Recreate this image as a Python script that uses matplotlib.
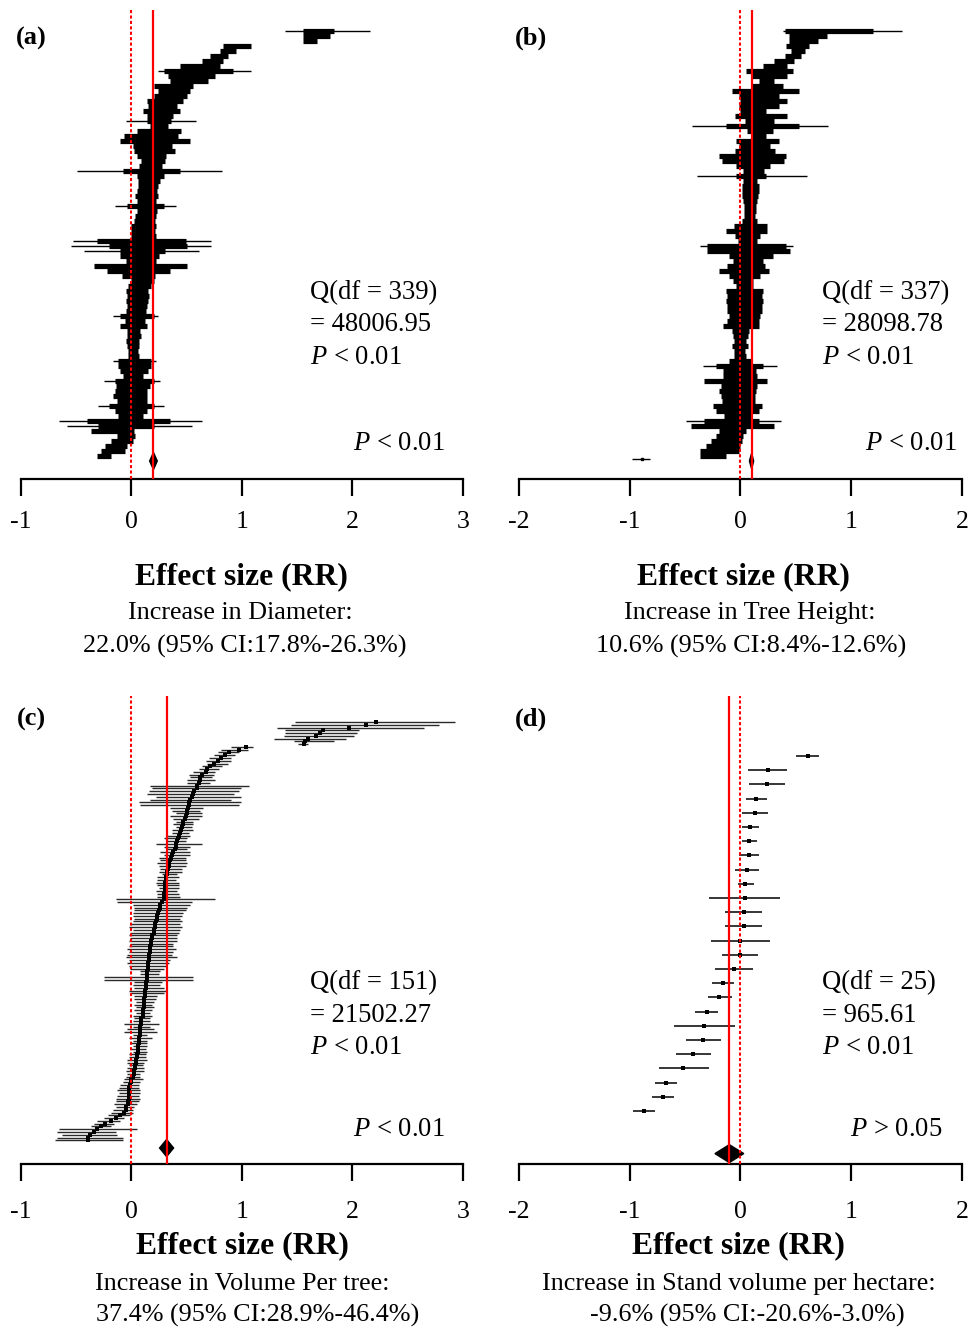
import numpy as np
import matplotlib
matplotlib.use("Agg")
import matplotlib.pyplot as plt

plt.rcParams['font.family'] = ['Liberation Serif', 'DejaVu Serif']
plt.rcParams['mathtext.fontset'] = 'custom'
plt.rcParams['mathtext.it'] = 'Liberation Serif:italic'
plt.rcParams['mathtext.rm'] = 'Liberation Serif'

# ---------------- data ----------------
# Panel (a) Diameter: silhouette rows (lower / upper CI, ln RR), top -> bottom
a_lo = [1.55, 1.55, 1.55, 0.83, 0.80, 0.71, 0.64, 0.44, 0.29, 0.33,
        0.35, 0.20, 0.24, 0.20, 0.14, 0.15, 0.10, 0.14, 0.14, 0.17,
        0.05, -0.07, -0.10, 0.01, 0.02, 0.05, 0.09, 0.07, -0.08, 0.05,
        0.06, 0.06, 0.05, 0.03, 0.05, -0.04, 0.05, 0.03, 0.02, 0.00,
        0.00, 0.00, -0.31, -0.20, -0.10, -0.10, -0.05, -0.34, -0.22, -0.09,
        0.00, -0.03, -0.05, -0.04, -0.05, -0.04, -0.05, -0.10, -0.06, -0.10,
        -0.04, -0.04, -0.05, -0.04, -0.03, -0.03, -0.12, -0.12, -0.10, -0.08,
        -0.15, -0.14, -0.15, -0.17, -0.13, -0.20, -0.15, -0.12, -0.40, -0.30,
        -0.37, -0.13, -0.19, -0.24, -0.28, -0.31]
a_hi = [1.83, 1.80, 1.68, 1.08, 0.95, 0.87, 0.83, 0.80, 0.92, 0.76,
        0.69, 0.56, 0.53, 0.50, 0.47, 0.41, 0.44, 0.38, 0.36, 0.33,
        0.45, 0.42, 0.53, 0.37, 0.39, 0.31, 0.30, 0.28, 0.44, 0.29,
        0.26, 0.24, 0.23, 0.24, 0.22, 0.29, 0.23, 0.22, 0.21, 0.22,
        0.21, 0.22, 0.49, 0.50, 0.30, 0.25, 0.22, 0.50, 0.35, 0.21,
        0.20, 0.18, 0.15, 0.16, 0.15, 0.14, 0.13, 0.20, 0.12, 0.14,
        0.08, 0.09, 0.07, 0.07, 0.06, 0.07, 0.18, 0.18, 0.15, 0.10,
        0.20, 0.17, 0.14, 0.14, 0.14, 0.20, 0.14, 0.10, 0.35, 0.20,
        0.02, 0.03, 0.01, -0.04, -0.06, -0.19]
# wide single-study intervals in panel (a)
a_out_row = [0, 8, 18, 28, 35, 42, 43, 44, 57, 66, 70, 75, 78, 79]
a_out_lo = [1.39, 0.24, -0.05, -0.49, -0.15, -0.53, -0.55, -0.43, -0.17, -0.17, -0.25, -0.30, -0.66, -0.58]
a_out_hi = [2.16, 1.08, 0.58, 0.82, 0.40, 0.72, 0.72, 0.61, 0.24, 0.22, 0.26, 0.29, 0.64, 0.55]

# Panel (b) Tree height
b_lo = [0.40, 0.44, 0.44, 0.41, 0.46, 0.40, 0.30, 0.20, 0.05, 0.10,
        0.17, 0.10, -0.08, -0.01, 0.00, -0.01, 0.00, -0.05, 0.04, -0.13,
        0.06, 0.10, -0.04, -0.01, -0.05, -0.19, -0.17, -0.04, 0.02, -0.04,
        0.02, 0.01, 0.01, 0.01, 0.02, 0.03, 0.03, 0.03, 0.01, -0.06,
        -0.13, -0.05, -0.02, -0.30, -0.30, -0.10, -0.07, -0.12, -0.19, -0.10,
        -0.07, -0.04, -0.13, -0.12, -0.13, -0.12, -0.12, -0.10, -0.12, -0.16,
        -0.08, -0.07, -0.06, -0.08, -0.06, -0.06, -0.10, -0.22, -0.16, -0.16,
        -0.33, -0.18, -0.19, -0.18, -0.17, -0.25, -0.22, -0.15, -0.33, -0.45,
        -0.19, -0.22, -0.27, -0.31, -0.37, -0.37]
b_hi = [1.20, 0.78, 0.70, 0.62, 0.58, 0.55, 0.48, 0.42, 0.47, 0.42,
        0.30, 0.38, 0.53, 0.35, 0.42, 0.35, 0.23, 0.42, 0.30, 0.53,
        0.29, 0.23, 0.35, 0.27, 0.31, 0.41, 0.39, 0.27, 0.21, 0.23,
        0.15, 0.17, 0.17, 0.16, 0.15, 0.14, 0.14, 0.13, 0.15, 0.24,
        0.24, 0.18, 0.15, 0.41, 0.45, 0.29, 0.20, 0.22, 0.26, 0.18,
        0.11, 0.11, 0.20, 0.19, 0.20, 0.19, 0.19, 0.18, 0.17, 0.17,
        0.08, 0.07, 0.05, 0.07, 0.04, 0.05, 0.10, 0.20, 0.14, 0.15,
        0.24, 0.15, 0.14, 0.13, 0.13, 0.19, 0.17, 0.10, 0.17, 0.30,
        0.05, 0.02, 0.01, 0.00, -0.01, -0.13]
b_out_row = [0, 19, 29, 43, 67, 78, 85.5]
b_out_lo = [0.38, -0.44, -0.39, -0.37, -0.34, -0.49, -0.98]
b_out_hi = [1.46, 0.79, 0.60, 0.47, 0.33, 0.37, -0.82]
b_out_est = [None, None, None, None, None, None, -0.89]

# Panel (c) Volume per tree: 152 studies
c_est = [2.21, 2.12, 1.97, 1.73, 1.71, 1.67, 1.60, 1.57, 1.56,
         1.04, 0.97, 0.88, 0.85, 0.81, 0.78, 0.75, 0.71, 0.68, 0.67, 0.64,
         0.62, 0.62, 0.61, 0.59, 0.59, 0.57, 0.56, 0.55, 0.53, 0.52,
         0.52, 0.51, 0.50, 0.50, 0.49, 0.48, 0.47, 0.47, 0.46, 0.45,
         0.44, 0.43, 0.42, 0.41, 0.40, 0.40, 0.39, 0.38, 0.37, 0.36,
         0.35, 0.34, 0.34, 0.33, 0.32, 0.32, 0.31, 0.31, 0.30, 0.30,
         0.30, 0.30, 0.29, 0.29, 0.29, 0.28, 0.26, 0.26, 0.25, 0.24,
         0.23, 0.23, 0.22, 0.21, 0.21, 0.20, 0.20, 0.19, 0.19, 0.18,
         0.18, 0.17, 0.17, 0.17, 0.16, 0.16, 0.16, 0.15, 0.15, 0.15,
         0.14, 0.14, 0.14, 0.14, 0.13, 0.13, 0.13, 0.12, 0.12, 0.12,
         0.11, 0.11, 0.11, 0.11, 0.10, 0.10, 0.10, 0.09, 0.09, 0.09,
         0.08, 0.08, 0.08, 0.08, 0.07, 0.07, 0.07, 0.06, 0.06, 0.06,
         0.05, 0.05, 0.04, 0.04, 0.03, 0.03, 0.02, 0.02, 0.01, 0.00,
         0.00, -0.01, -0.02, -0.02, -0.02, -0.02, -0.02, -0.03, -0.03, -0.05,
         -0.05, -0.07, -0.10, -0.14, -0.19, -0.24, -0.28, -0.31, -0.34, -0.38,
         -0.39, -0.39]
c_lo = [1.48, 1.44, 1.32, 1.39, 1.39, 1.38, 1.29, 1.47, 1.51,
        0.90, 0.81, 0.78, 0.75, 0.70, 0.67, 0.68, 0.64, 0.61, 0.56, 0.52,
        0.53, 0.50, 0.50, 0.17, 0.19, 0.16, 0.14, 0.22, 0.17, 0.07,
        0.08, 0.35, 0.37, 0.40, 0.35, 0.38, 0.40, 0.38, 0.40, 0.37,
        0.37, 0.32, 0.29, 0.32, 0.22, 0.29, 0.31, 0.26, 0.29, 0.25,
        0.26, 0.23, 0.25, 0.26, 0.25, 0.28, 0.23, 0.23, 0.22, 0.23,
        0.25, 0.22, 0.23, 0.23, -0.14, -0.13, 0.01, 0.02, 0.02, 0.01,
        0.01, 0.02, 0.01, -0.01, -0.02, 0.01, -0.01, -0.02, -0.01, -0.02,
        -0.01, -0.02, -0.04, -0.02, -0.04, -0.05, -0.02, -0.04, -0.02, -0.01,
        0.08, 0.08, -0.25, -0.25, 0.02, 0.01, 0.02, -0.02, -0.01, 0.02,
        0.02, 0.04, 0.02, 0.04, 0.02, 0.04, 0.01, 0.02, 0.01, -0.07,
        0.01, -0.04, -0.07, 0.01, -0.02, 0.01, -0.01, 0.01, -0.01, 0.01,
        -0.02, -0.02, -0.04, -0.04, -0.02, -0.04, -0.05, -0.04, -0.05, -0.07,
        -0.08, -0.10, -0.11, -0.13, -0.11, -0.13, -0.14, -0.14, -0.16, -0.14,
        -0.17, -0.19, -0.21, -0.25, -0.31, -0.34, -0.37, -0.66, -0.67, -0.63,
        -0.67, -0.69]
c_hi = [2.93, 2.78, 2.65, 2.06, 2.04, 2.01, 1.94, 1.83, 1.60,
        1.10, 1.05, 0.97, 0.94, 0.90, 0.90, 0.87, 0.82, 0.79, 0.76, 0.75,
        0.73, 0.76, 0.71, 1.06, 0.99, 0.97, 0.93, 0.99, 0.90, 0.99,
        0.97, 0.65, 0.62, 0.64, 0.64, 0.61, 0.56, 0.56, 0.55, 0.56,
        0.52, 0.53, 0.50, 0.49, 0.64, 0.53, 0.50, 0.53, 0.53, 0.49,
        0.49, 0.50, 0.49, 0.46, 0.46, 0.41, 0.43, 0.40, 0.43, 0.43,
        0.43, 0.41, 0.43, 0.44, 0.76, 0.55, 0.53, 0.50, 0.49, 0.47,
        0.46, 0.44, 0.46, 0.44, 0.46, 0.44, 0.43, 0.41, 0.41, 0.41,
        0.38, 0.38, 0.40, 0.38, 0.37, 0.41, 0.35, 0.34, 0.32, 0.29,
        0.26, 0.25, 0.56, 0.56, 0.28, 0.26, 0.29, 0.31, 0.29, 0.23,
        0.22, 0.20, 0.19, 0.20, 0.19, 0.17, 0.19, 0.17, 0.17, 0.25,
        0.17, 0.20, 0.23, 0.14, 0.19, 0.14, 0.14, 0.14, 0.13, 0.14,
        0.13, 0.13, 0.14, 0.11, 0.10, 0.11, 0.11, 0.08, 0.08, 0.10,
        0.08, 0.07, 0.07, 0.08, 0.08, 0.07, 0.08, 0.07, 0.05, 0.02,
        0.01, 0.01, -0.01, -0.07, -0.10, -0.16, -0.19, 0.05, -0.14, -0.13,
        -0.08, -0.08]

# Panel (d) Stand volume per hectare: 26 studies
d_est = [0.61, 0.25, 0.24, 0.14, 0.13, 0.09, 0.08, 0.08, 0.06, 0.04,
         0.04, 0.03, 0.03, 0.00, 0.00, -0.06, -0.16, -0.19, -0.30, -0.33,
         -0.34, -0.43, -0.52, -0.67, -0.70, -0.87]
d_lo = [0.50, 0.07, 0.08, 0.05, 0.01, 0.01, 0.01, -0.01, -0.05, -0.02,
        -0.28, -0.14, -0.14, -0.27, -0.17, -0.23, -0.26, -0.29, -0.41, -0.60,
        -0.49, -0.58, -0.74, -0.77, -0.80, -0.97]
d_hi = [0.71, 0.42, 0.40, 0.24, 0.25, 0.17, 0.15, 0.17, 0.17, 0.12,
        0.36, 0.19, 0.19, 0.27, 0.16, 0.11, -0.06, -0.08, -0.20, -0.05,
        -0.18, -0.27, -0.28, -0.57, -0.60, -0.77]

# pooled effects (% increase, 95% CI)
pooled_pct = {'a': (22.0, 17.8, 26.3), 'b': (10.6, 8.4, 12.6),
              'c': (37.4, 28.9, 46.4), 'd': (-9.6, -20.6, 3.0)}
q_df = {'a': 339, 'b': 337, 'c': 151, 'd': 25}
q_val = {'a': '48006.95', 'b': '28098.78', 'c': '21502.27', 'd': '965.61'}
p_het = {'a': '< 0.01', 'b': '< 0.01', 'c': '< 0.01', 'd': '< 0.01'}
p_eff = {'a': '< 0.01', 'b': '< 0.01', 'c': '< 0.01', 'd': '> 0.05'}
xticks_ab = {'a': [-1, 0, 1, 2, 3], 'b': [-2, -1, 0, 1, 2],
             'c': [-1, 0, 1, 2, 3], 'd': [-2, -1, 0, 1, 2]}
titles = {'a': ('Increase in Diameter:', '22.0% (95% CI:17.8%-26.3%)'),
          'b': ('Increase in Tree Height:', '10.6% (95% CI:8.4%-12.6%)'),
          'c': ('Increase in Volume Per tree:', '37.4% (95% CI:28.9%-46.4%)'),
          'd': ('Increase in Stand volume per hectare:', '-9.6% (95% CI:-20.6%-3.0%)')}

# ---------------- layout ----------------
W, H = 970, 1331
fig = plt.figure(figsize=(W / 100, H / 100), dpi=100)


def fx(x):
    return x / W


def fy(y):
    return 1 - y / H


# axes pixel boxes: x0, x1, ytop, ybottom ; first row pixel, row step ; tick pad
layout = {
    'a': (21, 463, 10, 479, 31, 5.0, 11),
    'b': (519, 962, 10, 479, 31, 5.0, 11),
    'c': (21, 463, 696, 1164, 722, 2.77, 14.5),
    'd': (519, 962, 696, 1164, 756, 14.2, 14.5),
}
diamond_row = {'a': 86, 'b': 86, 'c': 153.8, 'd': 28.0}
diamond_half = {'a': 1.7, 'b': 1.6, 'c': 3.1, 'd': 0.63}

axes = {}
for key, (x0, x1, yt, yb, r0, st, pad) in layout.items():
    ax = fig.add_axes([fx(x0), fy(yb), (x1 - x0) / W, (yb - yt) / H])
    t = xticks_ab[key]
    ax.set_xlim(t[0], t[-1])
    ax.set_ylim((yb - r0) / st, (yt - r0) / st)
    for s in ['left', 'right', 'top']:
        ax.spines[s].set_visible(False)
    ax.spines['bottom'].set_linewidth(1.6)
    ax.set_yticks([])
    ax.set_xticks(t)
    ax.set_xticklabels([str(v) for v in t], fontsize=18.5)
    ax.tick_params(axis='x', direction='out', length=12, width=1.6, pad=pad)
    ax.patch.set_alpha(0)
    axes[key] = ax


def draw_pooled(ax, key):
    est, lo, hi = [np.log(1 + v / 100) for v in pooled_pct[key]]
    r = diamond_row[key]
    h = diamond_half[key]
    ax.fill([lo, est, hi, est], [r, r - h, r, r + h], color='black', zorder=4)
    ax.axvline(est, color='#ff0000', lw=1.6, zorder=5)
    ax.axvline(0, color='#ff0000', lw=1.5, ls=(0, (1.5, 1.1)), zorder=5)


# panels a, b: dense silhouettes
for key, lo, hi, orow, olo, ohi in [('a', a_lo, a_hi, a_out_row, a_out_lo, a_out_hi),
                                    ('b', b_lo, b_hi, b_out_row, b_out_lo, b_out_hi)]:
    ax = axes[key]
    rows = np.arange(len(lo))
    ax.hlines(rows, lo, hi, color='black', lw=3.75, capstyle='butt', zorder=2)
    ax.hlines(orow, olo, ohi, color='black', lw=1.0, zorder=2)
    draw_pooled(ax, key)

axes['b'].plot([v for v in b_out_est if v is not None],
               [r for r, v in zip(b_out_row, b_out_est) if v is not None],
               's', color='black', ms=2, zorder=3)

# panel c
ax = axes['c']
rows = np.arange(len(c_est))
ax.hlines(rows, c_lo, c_hi, color='#2a2a2a', lw=1.0, zorder=2)
ax.plot(c_est, rows, 's', color='black', ms=3.0, mew=0, zorder=3)
draw_pooled(ax, 'c')

# panel d
ax = axes['d']
rows = np.arange(len(d_est))
ax.hlines(rows, d_lo, d_hi, color='black', lw=1.1, zorder=2)
ax.plot(d_est, rows, 's', color='black', ms=2.8, mew=0, zorder=3)
draw_pooled(ax, 'd')

# ---------------- text ----------------
panel_txt = {
    'a': dict(lab=(31, 38), q=(310, 293), p=(445, 444), eff=(241, 577), s1=(240, 613), s2=(245, 646)),
    'b': dict(lab=(531, 38), q=(822, 293), p=(957, 444), eff=(743, 577), s1=(750, 613), s2=(751, 646)),
    'c': dict(lab=(31, 719), q=(310, 983), p=(445, 1130), eff=(242, 1246), s1=(242, 1284), s2=(258, 1315)),
    'd': dict(lab=(531, 719), q=(822, 983), p=(942, 1130), eff=(738, 1246), s1=(739, 1284), s2=(747, 1315)),
}
for key, pt in panel_txt.items():
    x, y = pt['lab']
    fig.text(fx(x), fy(y), '(%s)' % key, fontsize=19, fontweight='bold', ha='center', va='center')
    x, y = pt['q']
    fig.text(fx(x), fy(y), 'Q(df = %d)' % q_df[key], fontsize=19.2, ha='left', va='center')
    fig.text(fx(x), fy(y + 32), '= %s' % q_val[key], fontsize=19.2, ha='left', va='center')
    fig.text(fx(x), fy(y + 64), r'$P$ %s' % p_het[key], fontsize=19.2, ha='left', va='center')
    x, y = pt['p']
    fig.text(fx(x), fy(y), r'$P$ %s' % p_eff[key], fontsize=19.2, ha='right', va='center')
    x, y = pt['eff']
    fig.text(fx(x), fy(y), 'Effect size (RR)', fontsize=22.8, fontweight='bold', ha='center', va='center')
    x, y = pt['s1']
    fig.text(fx(x), fy(y), titles[key][0], fontsize=18.8, ha='center', va='center')
    x, y = pt['s2']
    fig.text(fx(x), fy(y), titles[key][1], fontsize=18.8, ha='center', va='center')

fig.savefig('out.png', dpi=100)
